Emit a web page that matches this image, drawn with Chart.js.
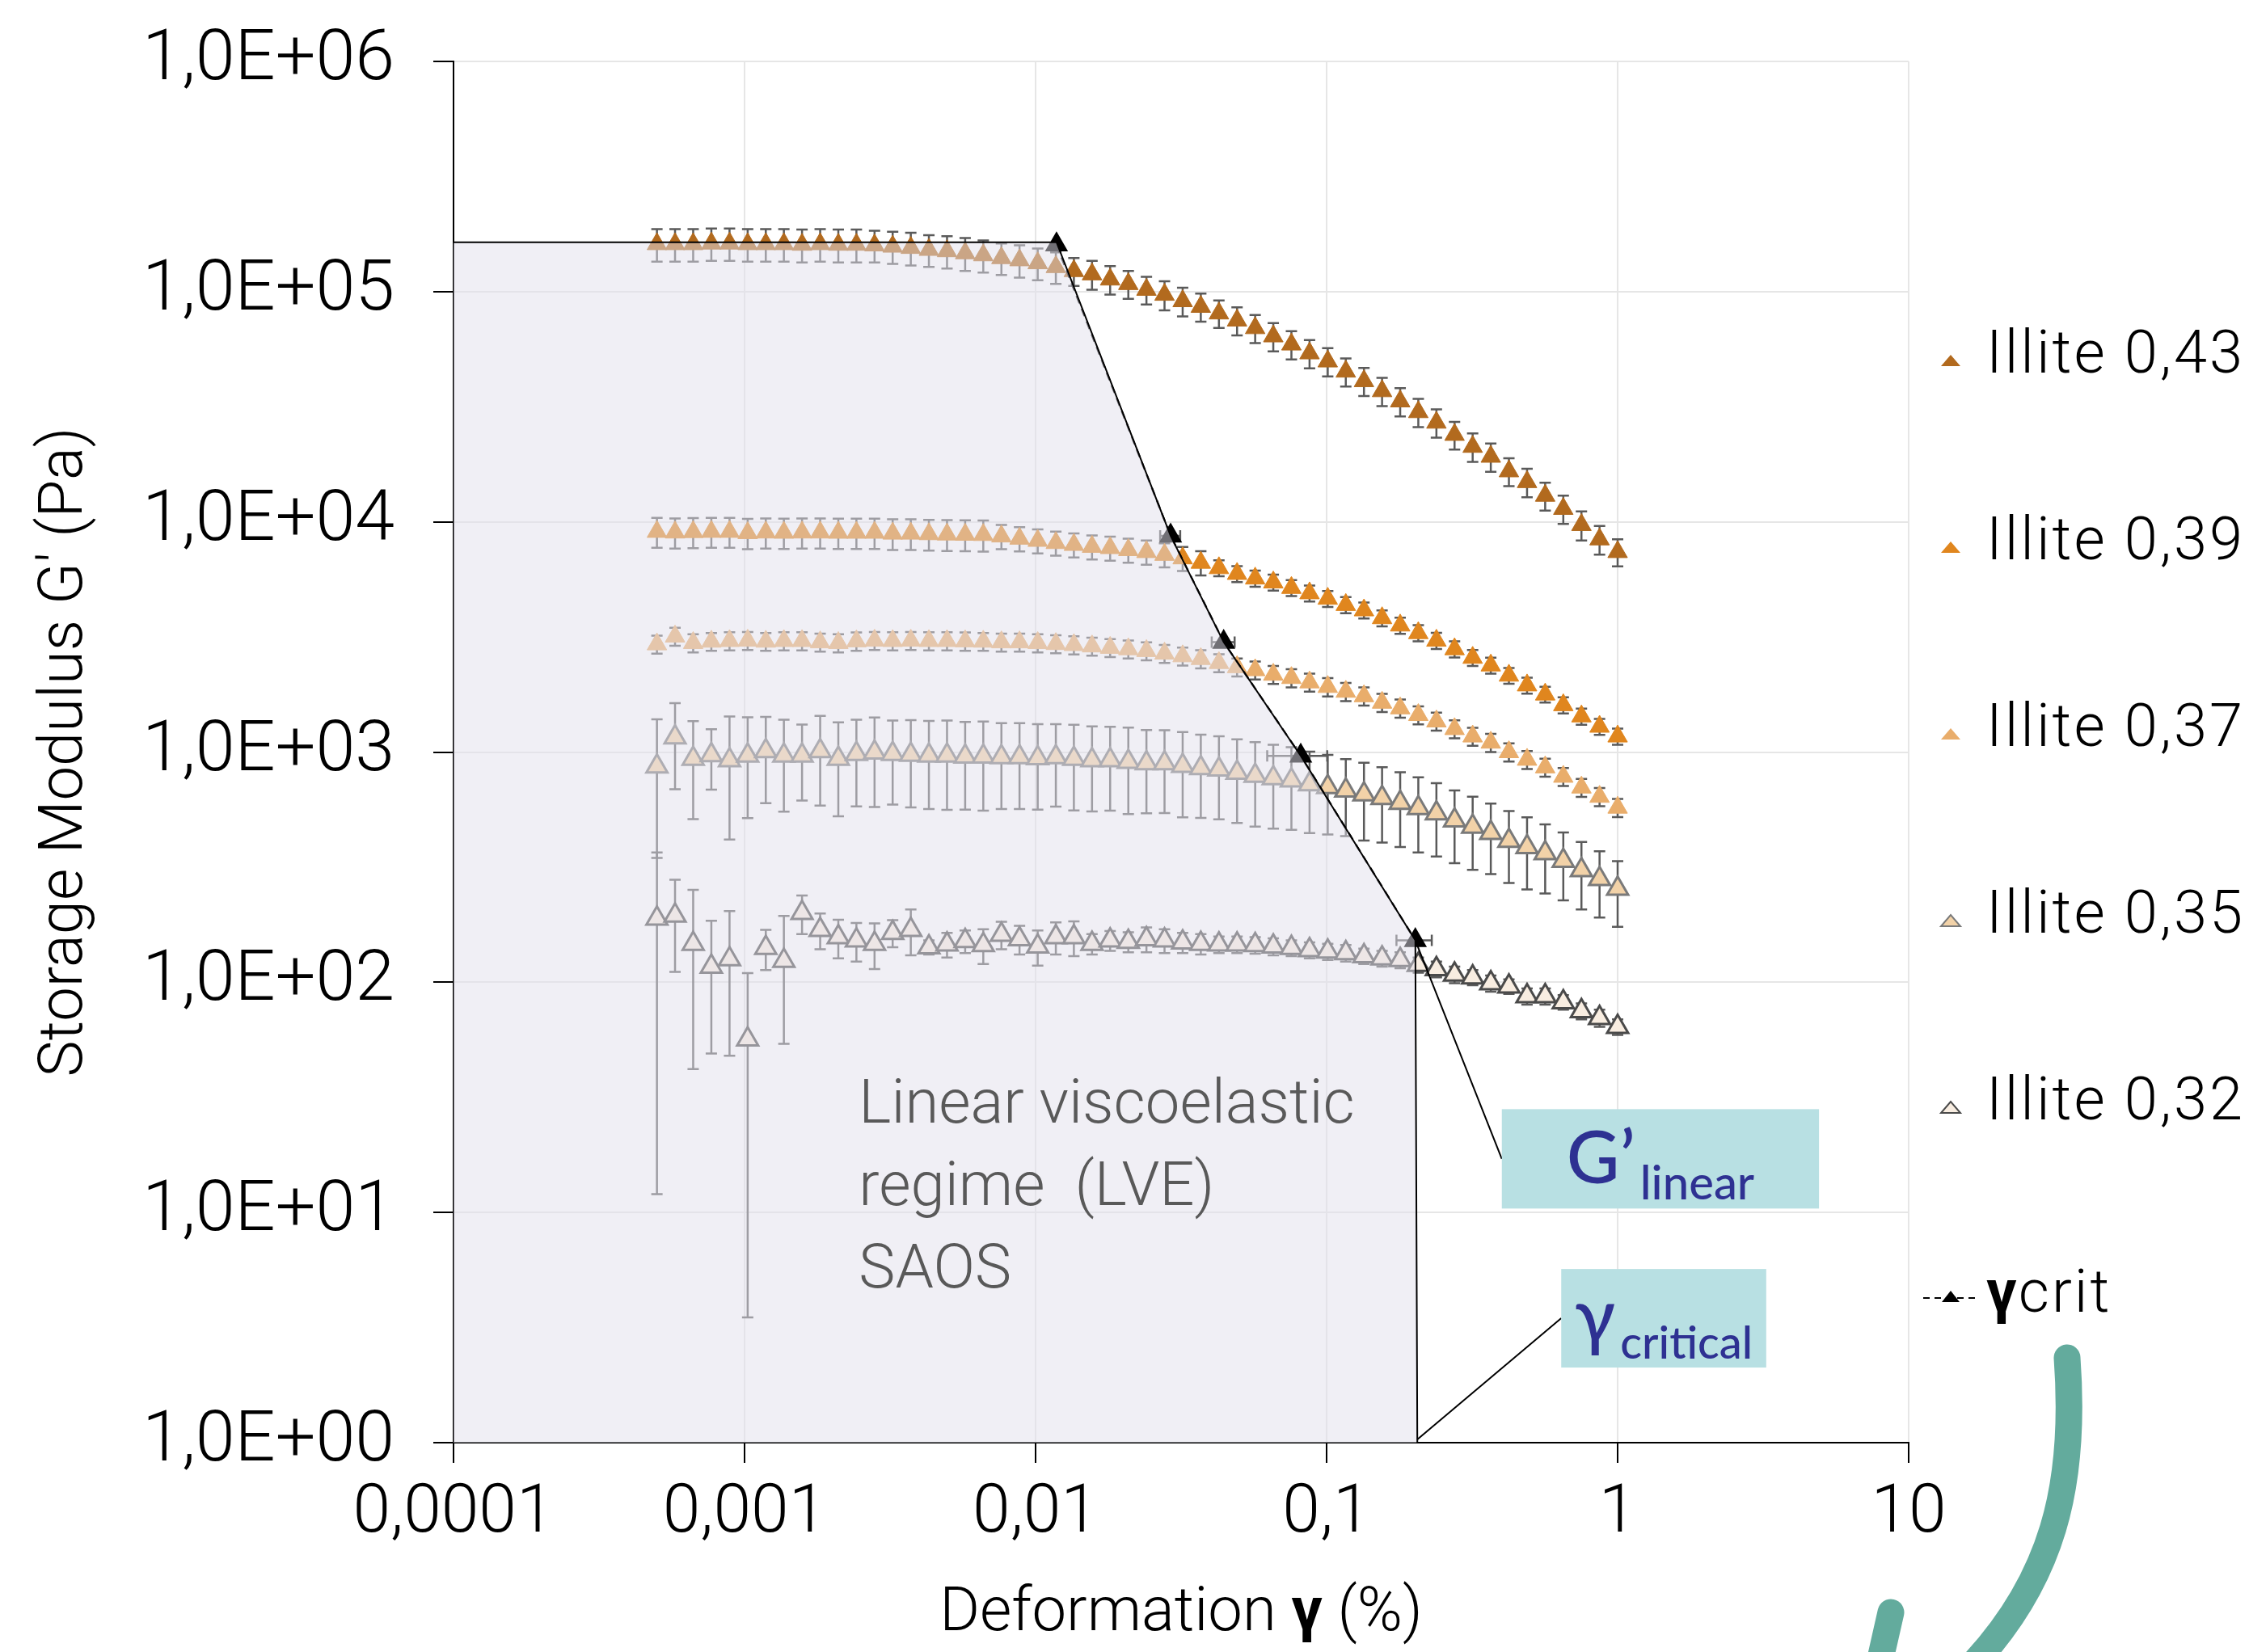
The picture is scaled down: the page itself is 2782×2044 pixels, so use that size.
<!DOCTYPE html>
<html>
<head>
<meta charset="utf-8">
<script src="https://cdn.jsdelivr.net/npm/chart.js@4.4.1/dist/chart.umd.min.js"></script>
<style>
  html, body { margin: 0; padding: 0; background: #fff; }
  canvas { display: block; }
</style>
</head>
<body>
<canvas id="modulusChart" width="2782" height="2044"></canvas>
<script>
// strain amplitude (%) of the sweep, shared by all five samples
const strain = [0.0005, 0.000577, 0.000666, 0.000769, 0.000888, 0.001025, 0.001183, 0.001365, 0.001576, 0.001819,
  0.0021, 0.002423, 0.002797, 0.003228, 0.003726, 0.0043, 0.004963, 0.005729, 0.006612, 0.007632,
  0.008808, 0.01017, 0.01174, 0.01354, 0.01563, 0.01804, 0.02083, 0.02404, 0.02774, 0.03202,
  0.03696, 0.04266, 0.04924, 0.05683, 0.06559, 0.0757, 0.08738, 0.1009, 0.1164, 0.1344,
  0.1551, 0.179, 0.2066, 0.2384, 0.2752, 0.3176, 0.3666, 0.4231, 0.4884, 0.5637,
  0.6506, 0.751, 0.8668, 1.0];

const seriesNames = ['Illite 0,43', 'Illite 0,39', 'Illite 0,37', 'Illite 0,35', 'Illite 0,32'];

// G' (Pa)
const g043 = [1.61e5, 1.61e5, 1.61e5, 1.62e5, 1.62e5, 1.61e5, 1.61e5, 1.61e5, 1.60e5, 1.61e5,
  1.60e5, 1.60e5, 1.59e5, 1.57e5, 1.55e5, 1.52e5, 1.50e5, 1.47e5, 1.44e5, 1.40e5,
  1.37e5, 1.33e5, 1.28e5, 1.23e5, 1.19e5, 1.13e5, 1.08e5, 1.02e5, 9.7e4, 9.1e4,
  8.6e4, 8.05e4, 7.5e4, 6.95e4, 6.4e4, 5.9e4, 5.4e4, 4.98e4, 4.5e4, 4.09e4,
  3.7e4, 3.34e4, 3.0e4, 2.7e4, 2.39e4, 2.12e4, 1.92e4, 1.66e4, 1.49e4, 1.30e4,
  1.14e4, 9.7e3, 8.4e3, 7.4e3];
const g039 = [9.06e3, 9.0e3, 9.04e3, 9.06e3, 9.06e3, 8.95e3, 9.0e3, 8.98e3, 9.0e3, 9.0e3,
  8.98e3, 8.98e3, 8.98e3, 8.9e3, 8.9e3, 8.85e3, 8.82e3, 8.8e3, 8.78e3, 8.65e3,
  8.46e3, 8.28e3, 8.1e3, 7.95e3, 7.8e3, 7.7e3, 7.55e3, 7.4e3, 7.2e3, 6.95e3,
  6.65e3, 6.3e3, 5.95e3, 5.68e3, 5.46e3, 5.17e3, 4.9e3, 4.64e3, 4.36e3, 4.13e3,
  3.82e3, 3.55e3, 3.29e3, 3.05e3, 2.8e3, 2.57e3, 2.38e3, 2.15e3, 1.95e3, 1.78e3,
  1.6e3, 1.43e3, 1.29e3, 1.17e3];
const g037 = [2.94e3, 3.18e3, 2.98e3, 3.02e3, 3.04e3, 3.05e3, 3.02e3, 3.04e3, 3.04e3, 3.0e3,
  2.98e3, 3.03e3, 3.05e3, 3.04e3, 3.05e3, 3.04e3, 3.04e3, 3.03e3, 3.02e3, 3.0e3,
  3.0e3, 2.98e3, 2.95e3, 2.92e3, 2.88e3, 2.84e3, 2.8e3, 2.75e3, 2.68e3, 2.61e3,
  2.54e3, 2.44e3, 2.34e3, 2.27e3, 2.17e3, 2.1e3, 2.01e3, 1.92e3, 1.83e3, 1.75e3,
  1.64e3, 1.55e3, 1.45e3, 1.36e3, 1.26e3, 1.17e3, 1.1e3, 1.0e3, 927, 859,
  782, 702, 640, 574];
const g035 = [867, 1160, 936, 971, 922, 966, 1010, 966, 966, 1010,
  936, 981, 995, 981, 975, 966, 966, 957, 957, 951,
  951, 942, 951, 936, 922, 922, 908, 894, 894, 871,
  853, 840, 814, 789, 770, 754, 725, 705, 681, 656,
  632, 602, 571, 542, 505, 474, 446, 412, 387, 364,
  337, 307, 281, 255];
const g032 = [189, 195, 147, 117, 126, 56.5, 141, 124, 200, 169,
  157, 152, 147, 164, 169, 142, 146, 151, 145, 161,
  154, 143, 157, 157, 147, 152, 150, 154, 152, 149,
  147, 146, 146, 145, 143, 141, 138, 136, 134, 130,
  127, 125, 119, 114, 108, 105, 99, 96, 87, 87,
  82, 75, 70, 64];

// standard deviations (Pa)
const err043 = [2.6e4, 2.6e4, 2.6e4, 2.6e4, 2.6e4, 2.6e4, 2.6e4, 2.6e4, 2.6e4, 2.6e4,
  2.6e4, 2.6e4, 2.5e4, 2.5e4, 2.5e4, 2.4e4, 2.4e4, 2.4e4, 2.3e4, 2.2e4,
  2.2e4, 2.1e4, 2.0e4, 1.7e4, 1.7e4, 1.6e4, 1.5e4, 1.4e4, 1.4e4, 1.3e4,
  1.2e4, 1.1e4, 1.05e4, 9.7e3, 9.0e3, 8.3e3, 7.6e3, 7.0e3, 6.3e3, 5.7e3,
  5.2e3, 4.7e3, 4.2e3, 3.8e3, 3.3e3, 3.0e3, 2.7e3, 2.3e3, 2.1e3, 1.8e3,
  1.6e3, 1.4e3, 1.2e3, 1.0e3];
const err039 = [1350, 1350, 1350, 1350, 1350, 1350, 1350, 1350, 1350, 1350,
  1350, 1350, 1350, 1350, 1350, 1350, 1350, 1350, 1350, 1040,
  1015, 990, 970, 950, 935, 925, 905, 890, 860, 830,
  800, 500, 475, 455, 435, 415, 390, 370, 350, 330,
  305, 285, 265, 245, 225, 205, 190, 170, 155, 140,
  128, 115, 103, 94];
const err037 = [265, 285, 270, 270, 275, 275, 270, 275, 275, 270,
  270, 275, 275, 275, 275, 275, 275, 275, 270, 270,
  270, 270, 265, 265, 260, 255, 250, 245, 240, 235,
  230, 220, 210, 205, 195, 190, 180, 175, 165, 158,
  148, 140, 130, 122, 113, 105, 99, 90, 83, 77,
  70, 63, 58, 52];
const err035 = [520, 470, 425, 285, 505, 450, 410, 415, 350, 425,
  410, 400, 418, 390, 400, 400, 405, 395, 400, 385,
  385, 380, 372, 378, 370, 366, 370, 352, 351, 350,
  336, 330, 322, 315, 305, 295, 280, 267, 250, 243,
  228, 215, 205, 190, 176, 166, 151, 142, 134, 121,
  110, 100, 90, 81];
const err032 = [177, 84, 105, 68, 78, 53, 28, 70, 38, 30,
  30, 29, 33, 22, 38, 10, 18, 17, 25, 22,
  22, 25, 25, 27, 15, 15, 15, 19, 18, 15,
  15, 12, 12, 12, 12, 11, 11, 11, 11, 10,
  10, 10, 9, 9, 9, 8, 8, 7, 7, 7,
  6, 6, 6, 5];

// critical strain of each sample (end of the LVE plateau)
const critStrain = [0.0118, 0.0291, 0.0443, 0.0815, 0.2018];
const critModulus = [1.6e5, 8.7e3, 3.0e3, 962, 152];
const critStrainErr = [0, 0.0023, 0.004, 0.019, 0.028];

// outline of the linear viscoelastic region
const lveX = [0.0001, 0.0118, 0.0291, 0.0443, 0.0815, 0.2018, 0.205];
const lveY = [1.64e5, 1.64e5, 8.7e3, 3.0e3, 962, 152, 1];

// annotation boxes: [xMin, xMax, yTop, yBottom] in axis units
const gLinearBox = [0.40, 4.92, 28.1, 10.4];
const gCriticalBox = [0.64, 3.24, 5.68, 2.12];
const lveLines = ['Linear viscoelastic', 'regime  (LVE)', 'SAOS'];
const lveTextAt = [0.00247, 24.5];

const xTicks = [0.0001, 0.001, 0.01, 0.1, 1, 10];
const xTickLabels = ['0,0001', '0,001', '0,01', '0,1', '1', '10'];
const yTicks = [1, 10, 100, 1000, 10000, 100000, 1000000];
const yTickLabels = ['1,0E+00', '1,0E+01', '1,0E+02', '1,0E+03', '1,0E+04', '1,0E+05', '1,0E+06'];

const fills = ['#b26a1e', '#e0861e', '#e9ad6b', '#f2d2a8', '#f8ede1'];
const borders = ['#b26a1e', '#e0861e', '#e9ad6b', '#7a7a7a', '#4a4a4a'];

const toPoints = (xs, ys) => xs.map((v, i) => ({ x: v, y: ys[i] }));

const sampleSets = [g043, g039, g037, g035, g032].map((vals, i) => ({
    label: seriesNames[i],
    data: toPoints(strain, vals),
    errY: [err043, err039, err037, err035, err032][i],
    pointStyle: 'triangle',
    pointRadius: i >= 3 ? 15 : 14,
    pointBackgroundColor: fills[i],
    pointBorderColor: borders[i],
    pointBorderWidth: i >= 3 ? 3 : 1,
    showLine: false,
    order: 6 - i
}));

const errorBars = {
    id: 'errorBars',
    beforeDatasetsDraw(chart) {
        const { ctx, scales: { x, y } } = chart;
        ctx.save();
        ctx.strokeStyle = '#5a5a5a';
        ctx.lineWidth = 2.5;
        const cap = 7;
        chart.data.datasets.forEach(ds => {
            if (!ds.errY && !ds.errX) return;
            ds.data.forEach((p, j) => {
                const px = x.getPixelForValue(p.x);
                const py = y.getPixelForValue(p.y);
                ctx.beginPath();
                if (ds.errY) {
                    const e = ds.errY[j];
                    const top = y.getPixelForValue(p.y + e);
                    const bot = y.getPixelForValue(Math.max(p.y - e, y.min));
                    ctx.moveTo(px, top); ctx.lineTo(px, bot);
                    ctx.moveTo(px - cap, top); ctx.lineTo(px + cap, top);
                    ctx.moveTo(px - cap, bot); ctx.lineTo(px + cap, bot);
                }
                if (ds.errX && ds.errX[j]) {
                    const e = ds.errX[j];
                    const l = x.getPixelForValue(p.x - e);
                    const r = x.getPixelForValue(p.x + e);
                    ctx.moveTo(l, py); ctx.lineTo(r, py);
                    ctx.moveTo(l, py - cap); ctx.lineTo(l, py + cap);
                    ctx.moveTo(r, py - cap); ctx.lineTo(r, py + cap);
                }
                ctx.stroke();
            });
        });
        ctx.restore();
    }
};

function tri(ctx, cx, cy, w, h) {
    ctx.beginPath();
    ctx.moveTo(cx - w / 2, cy + h / 2);
    ctx.lineTo(cx + w / 2, cy + h / 2);
    ctx.lineTo(cx, cy - h / 2);
    ctx.closePath();
}

const decor = {
    id: 'decor',
    afterDraw(chart) {
        const { ctx, chartArea: area, scales: { x, y } } = chart;
        const px = v => x.getPixelForValue(v);
        const py = v => y.getPixelForValue(v);
        ctx.save();

        // LVE label
        ctx.fillStyle = '#595959';
        ctx.font = '300 76px Roboto';
        ctx.textBaseline = 'alphabetic';
        ctx.textAlign = 'left';
        lveLines.forEach((t, i) => ctx.fillText(t, px(lveTextAt[0]), py(lveTextAt[1]) + i * 102));

        // callout lines
        const last = critStrain.length - 1;
        const gx0 = px(gLinearBox[0]), gx1 = px(gLinearBox[1]);
        const gy0 = py(gLinearBox[2]), gy1 = py(gLinearBox[3]);
        const cx0 = px(gCriticalBox[0]), cx1 = px(gCriticalBox[1]);
        const cy0 = py(gCriticalBox[2]), cy1 = py(gCriticalBox[3]);
        ctx.strokeStyle = '#000';
        ctx.lineWidth = 2;
        ctx.beginPath();
        ctx.moveTo(px(critStrain[last]), py(critModulus[last]));
        ctx.lineTo(gx0, (gy0 + gy1) / 2);
        ctx.moveTo(px(lveX[lveX.length - 1]), py(lveY[lveY.length - 1]) - 4);
        ctx.lineTo(cx0, (cy0 + cy1) / 2);
        ctx.stroke();

        // label boxes
        ctx.fillStyle = '#b8e0e3';
        ctx.fillRect(gx0, gy0, gx1 - gx0, gy1 - gy0);
        ctx.fillRect(cx0, cy0, cx1 - cx0, cy1 - cy0);
        ctx.fillStyle = '#2e3192';
        const drawSub = (main, sub, bx0, bx1, midY, mainSize, subSize) => {
            ctx.font = `500 ${mainSize}px Lato`;
            const w1 = ctx.measureText(main).width;
            ctx.font = `500 ${subSize}px Lato`;
            const w2 = ctx.measureText(sub).width;
            const start = (bx0 + bx1) / 2 - (w1 + w2 + 6) / 2;
            ctx.font = `500 ${mainSize}px Lato`;
            ctx.fillText(main, start, midY + 30);
            ctx.font = `500 ${subSize}px Lato`;
            ctx.fillText(sub, start + w1 + 6, midY + 50);
        };
        drawSub('G\u2019', 'linear', gx0, gx1, (gy0 + gy1) / 2, 90, 58);
        drawSub('\u03b3', 'critical', cx0, cx1, (cy0 + cy1) / 2, 92, 56);

        // x axis title with bold gamma
        const tY = 1998;
        const parts = [['300 76px Roboto', 'Deformation '], ['700 76px Roboto', '\u03b3'], ['300 76px Roboto', ' (%)']];
        let total = 0;
        parts.forEach(([f, t]) => { ctx.font = f; total += ctx.measureText(t).width; });
        let tx = (area.left + area.right) / 2 - total / 2;
        ctx.fillStyle = '#000';
        ctx.textBaseline = 'middle';
        parts.forEach(([f, t]) => { ctx.font = f; ctx.fillText(t, tx, tY); tx += ctx.measureText(t).width; });

        // legend
        const lx = area.right + 52;
        const textX = area.right + 96;
        const ly0 = area.top + 366;
        ctx.font = '300 74px Roboto';
        ctx.letterSpacing = '3px';
        seriesNames.forEach((name, i) => {
            const ly = ly0 + i * 231;
            tri(ctx, lx, ly + 4, 24, 14);
            ctx.fillStyle = fills[i];
            ctx.fill();
            if (i >= 3) { ctx.strokeStyle = borders[i]; ctx.lineWidth = 2; ctx.stroke(); }
            ctx.fillStyle = '#000';
            ctx.fillText(name, textX, ly);
        });
        const gy = ly0 + 5 * 231 + 7;
        ctx.strokeStyle = '#000';
        ctx.lineWidth = 2;
        ctx.setLineDash([8, 6]);
        ctx.beginPath();
        ctx.moveTo(lx - 34, gy + 2); ctx.lineTo(lx + 30, gy + 2);
        ctx.stroke();
        ctx.setLineDash([]);
        tri(ctx, lx, gy, 22, 14);
        ctx.fillStyle = '#000';
        ctx.fill();
        ctx.letterSpacing = '0px';
        ctx.font = '700 74px Roboto';
        ctx.fillText('\u03b3', textX, gy);
        const gw = ctx.measureText('\u03b3').width;
        ctx.font = '300 74px Roboto';
        ctx.letterSpacing = '3px';
        ctx.fillText('crit', textX + gw + 2, gy);
        ctx.letterSpacing = '0px';

        // teal arrow
        ctx.strokeStyle = '#63ab9d';
        ctx.lineWidth = 33;
        ctx.lineCap = 'round';
        ctx.beginPath();
        ctx.moveTo(2557, 1680);
        ctx.bezierCurveTo(2568, 1830, 2545, 1960, 2420, 2080);
        ctx.stroke();
        ctx.beginPath();
        ctx.moveTo(2339, 1995);
        ctx.lineTo(2322, 2070);
        ctx.stroke();

        ctx.restore();
    }
};

const ctx = document.getElementById('modulusChart').getContext('2d');
new Chart(ctx, {
    type: 'scatter',
    data: {
        datasets: [
            ...sampleSets,
            {
                label: '\u03b3crit',
                data: toPoints(critStrain, critModulus),
                errX: critStrainErr,
                showLine: true,
                borderColor: '#000',
                borderWidth: 2.5,
                borderDash: [10, 7],
                pointStyle: 'triangle',
                pointRadius: 14,
                pointBackgroundColor: '#000',
                pointBorderColor: '#000',
                order: 1
            },
            {
                label: 'LVE',
                data: toPoints(lveX, lveY),
                showLine: true,
                fill: 'start',
                backgroundColor: 'rgba(225, 223, 236, 0.5)',
                borderColor: '#000',
                borderWidth: 2,
                pointRadius: 0,
                tension: 0,
                order: 0
            }
        ]
    },
    options: {
        responsive: false,
        animation: false,
        events: [],
        layout: { padding: { left: 0, right: 421, top: 76, bottom: 0 } },
        scales: {
            x: {
                type: 'logarithmic',
                min: 0.0001,
                max: 10,
                afterBuildTicks: s => { s.ticks = xTicks.map(v => ({ value: v })); },
                afterFit: s => { s.height = 259; s.paddingLeft = 0; s.paddingRight = 0; },
                ticks: {
                    callback: (v, i) => xTickLabels[i],
                    font: { family: 'Roboto', size: 84, weight: 300 },
                    color: '#000',
                    padding: 14,
                    maxRotation: 0,
                    autoSkip: false
                },
                grid: { color: '#e6e6e6', lineWidth: 2, tickLength: 25, tickColor: '#000', tickWidth: 2 },
                border: { color: '#000', width: 2 }
            },
            y: {
                type: 'logarithmic',
                min: 1,
                max: 1000000,
                afterBuildTicks: s => { s.ticks = yTicks.map(v => ({ value: v })); },
                afterFit: s => { s.width = 561; s.paddingTop = 0; s.paddingBottom = 0; },
                ticks: {
                    callback: (v, i) => yTickLabels[i],
                    font: { family: 'Roboto', size: 88, weight: 300 },
                    color: '#000',
                    padding: 48,
                    autoSkip: false
                },
                grid: { color: '#e6e6e6', lineWidth: 2, tickLength: 25, tickColor: '#000', tickWidth: 2 },
                border: { color: '#000', width: 2 },
                title: {
                    display: true,
                    text: "Storage Modulus G' (Pa)",
                    font: { family: 'Roboto', size: 76, weight: 300 },
                    color: '#000',
                    padding: { top: 36, bottom: 0 }
                }
            }
        },
        plugins: {
            legend: { display: false },
            tooltip: { enabled: false }
        }
    },
    plugins: [errorBars, decor]
});
</script>
</body>
</html>
